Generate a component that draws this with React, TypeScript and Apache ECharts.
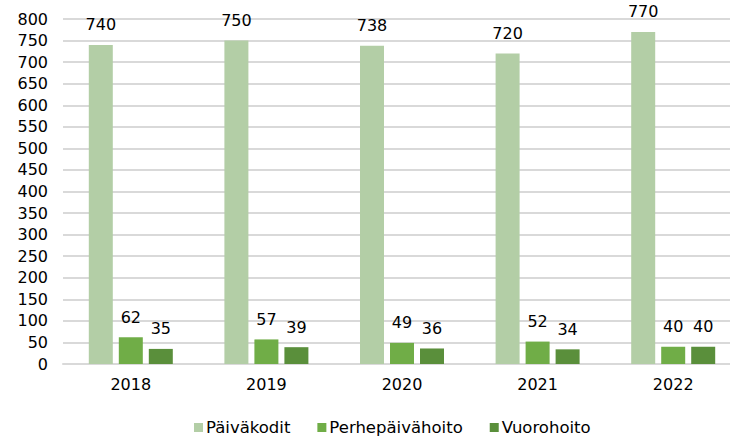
import React, { useEffect, useRef } from "react";
import * as echarts from "echarts";

const categories = ["2018", "2019", "2020", "2021", "2022"];
const paivakodit = [740, 750, 738, 720, 770];
const perhepaivahoito = [62, 57, 49, 52, 40];
const vuorohoito = [35, 39, 36, 34, 40];
const seriesNames = ["Päiväkodit", "Perhepäivähoito", "Vuorohoito"];
const colors = ["#b3cea6", "#70ad47", "#5a8f3b"];

const FONT = "DejaVu Sans";

export default function App() {
  const ref = useRef<HTMLDivElement>(null);
  useEffect(() => {
    document.body.style.margin = "0";
    if (!ref.current) return;
    const chart = echarts.init(ref.current, undefined, { renderer: "svg" });
    const label = {
      show: true,
      position: "top" as const,
      distance: 12,
      color: "#000",
      fontFamily: FONT,
      fontSize: 16,
    };
    const data = [paivakodit, perhepaivahoito, vuorohoito];
    chart.setOption({
      animation: false,
      textStyle: { fontFamily: FONT },
      grid: {
        left: 63,
        width: 678,
        top: 19,
        bottom: 75,
        containLabel: false,
        outerBoundsMode: "none",
      },
      legend: {
        top: 414,
        left: 189,
        itemWidth: 9,
        itemHeight: 9,
        itemGap: 27,
        icon: "rect",
        textStyle: { fontFamily: FONT, fontSize: 16.5, color: "#000", padding: [0, 0, 0, -2] },
        data: seriesNames,
      },
      xAxis: {
        type: "category",
        data: categories,
        axisTick: { show: false },
        axisLine: { lineStyle: { color: "#d9d9d9", width: 2 } },
        axisLabel: { color: "#000", fontFamily: FONT, fontSize: 16, margin: 12 },
      },
      yAxis: {
        type: "value",
        min: 0,
        max: 800,
        interval: 50,
        axisLine: { show: false },
        axisTick: { show: false },
        splitLine: { lineStyle: { color: "#d9d9d9", width: 2 } },
        axisLabel: { color: "#000", fontFamily: FONT, fontSize: 16, margin: 15 },
      },
      series: seriesNames.map((name, i) => ({
        name,
        type: "bar",
        data: data[i],
        barWidth: 24,
        barGap: "25%",
        itemStyle: { color: colors[i] },
        label,
      })),
    });
    return () => chart.dispose();
  }, []);
  return <div ref={ref} style={{ width: 730, height: 439 }} />;
}
